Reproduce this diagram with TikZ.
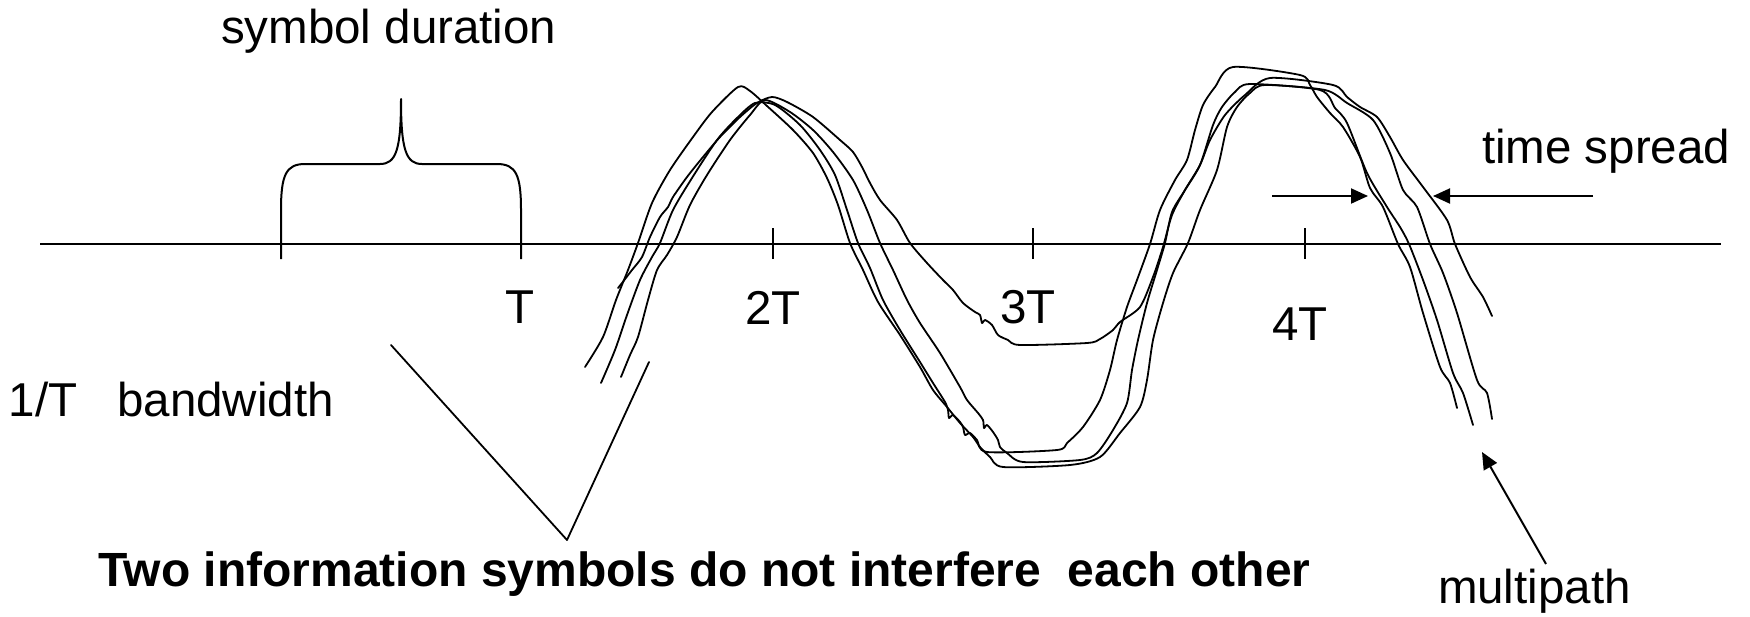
\documentclass[tikz,border=0pt]{standalone}
\usepackage{fontspec}
\setmainfont{Liberation Sans}
\usetikzlibrary{arrows.meta}
\begin{document}
\begin{tikzpicture}[x=1pt,y=-1pt,
  axisline/.style={line width=2pt},
  wave/.style={line width=1.8pt, line join=round, line cap=round},
  lbl/.style={inner sep=0pt, outer sep=0pt, font=\fontsize{47.5}{57}\selectfont},
  boldlbl/.style={inner sep=0pt, outer sep=0pt, font=\fontsize{48}{58}\selectfont\bfseries},
  arr/.style={line width=2pt, -{Triangle[length=17pt,width=15pt]}},
  ticklen/.style={line width=2pt},
]
\useasboundingbox (0,0) rectangle (1750,616);

% axis
\coordinate (axL) at (40,244);
\coordinate (axR) at (1721,244);
\draw[axisline] (axL) -- (axR);

% ticks
\foreach \n/\x in {t2/773, t3/1033, t4/1305}{
  \coordinate (\n top) at (\x,228);
  \coordinate (\n bot) at (\x,259);
  \draw[ticklen] (\n top) -- (\n bot);
}

% brace (symbol duration)
\coordinate (brL) at (281,259);
\coordinate (brR) at (521,259);
\coordinate (brP) at (401,99);
\draw[axisline, line join=round] (brL) -- (281,210) .. controls (281,175) and (286,164) .. (305,164)
   -- (380,164) .. controls (396,164) and (401,150) .. (brP)
   .. controls (401,150) and (406,164) .. (422,164) -- (497,164)
   .. controls (516,164) and (521,175) .. (521,210) -- (brR);

% labels
\node[lbl, anchor=base west] (symdur) at (221,43) {symbol duration};
\node[lbl, anchor=base] (lT) at (520,323) {T};
\node[lbl, anchor=base] (l2T) at (773,324) {2T};
\node[lbl, anchor=base] (l3T) at (1028,323) {3T};
\node[lbl, anchor=base] (l4T) at (1300,340) {4T};
\node[lbl, anchor=base west] (bw) at (9,416) {1/T\ \ \ bandwidth};
\node[lbl, anchor=base west] (ts) at (1482,163) {time spread};
\node[lbl, anchor=base west] (mp) at (1438,603) {multipath};
\node[boldlbl, anchor=base west] (two) at (98,586) {Two information symbols do not interfere\ \ each other};

% V lines
\coordinate (vL) at (391,345);
\coordinate (vB) at (567,540);
\coordinate (vR) at (649,362);
\draw[wave] (vL) -- (vB) -- (vR);

% waves
\draw[wave] plot[smooth, tension=0.45] coordinates {
(585,367) (603,337) (616,300) (628,270) (638,243) (652,203) (670,170) (693,137) (712,112) (738,87) (750,91) (767,106) (793,130) (813,153) (827,178) (838,205) (850,243) (863,270) (878,302) (900,335) (920,367) (933,390) (947,407) (960,423) (973,437) (980,447) (990,457) (1003,467) (1070,465) (1100,457) (1120,433) (1140,407) (1147,380) (1153,340) (1163,303) (1173,273) (1188,243) (1200,210) (1217,170) (1227,127) (1237,107) (1250,93) (1265,85) (1325,90) (1347,103) (1373,120) (1390,153) (1403,190) (1417,207) (1430,244) (1443,273) (1457,313) (1477,380) (1487,393) (1492,419)};

\draw[wave] plot[smooth, tension=0.45] coordinates {
(601,383) (615,350) (627,315) (640,280) (652,257) (660,243) (673,210) (692,178) (717,140) (737,118) (755,103) (775,105) (800,125) (820,150) (835,175) (847,210) (858,243) (870,268) (883,300) (900,330) (920,362) (933,383) (945,402) (948,410) (949,418) (953,415) (960,422) (963,427) (965,435) (970,433) (977,440) (987,452) (1057,450) (1067,443) (1083,427) (1100,400) (1110,370) (1117,340) (1127,307) (1137,280) (1150,244) (1160,210) (1175,180) (1187,160) (1195,130) (1203,105) (1215,87) (1233,67) (1300,75) (1310,85) (1317,97) (1330,113) (1343,127) (1360,157) (1370,188) (1383,207) (1398,244) (1410,267) (1423,313) (1440,367) (1450,383) (1457,408)};

\draw[wave] plot[smooth, tension=0.45] coordinates {
(621,377) (630,355) (638,337) (648,300) (657,270) (667,255) (677,237) (690,205) (707,175) (730,140) (750,115) (765,100) (790,112) (813,130) (833,152) (853,180) (867,210) (880,243) (893,270) (907,300) (920,323) (940,353) (960,387) (967,400) (978,413) (983,420) (984,428) (987,425) (993,432) (998,440) (1000,447) (1007,453) (1023,462) (1080,460) (1097,453) (1113,430) (1127,403) (1132,370) (1138,340) (1147,303) (1157,270) (1165,243) (1172,212) (1185,190) (1200,165) (1213,125) (1222,107) (1235,92) (1250,84) (1320,90) (1335,108) (1347,123) (1367,173) (1387,207) (1400,227) (1409,244) (1423,280) (1437,320) (1453,373) (1463,393) (1473,425)};

\draw[wave] plot[smooth, tension=0.45] coordinates {
(618,288) (622,283) (632,270) (642,257) (650,237) (660,217) (668,207) (673,197) (687,177) (703,157) (720,137) (740,117) (757,103) (772,97) (787,102) (813,117) (840,140) (853,152) (862,167) (870,183) (880,200) (897,220) (910,243) (927,263) (943,280) (953,290) (963,303) (975,312) (980,315) (982,323) (985,320) (992,325) (998,335) (1008,340) (1020,345) (1087,343) (1100,339) (1113,330) (1120,322) (1140,307) (1153,277) (1163,247) (1172,215) (1185,190) (1200,165) (1210,140) (1225,115) (1245,95) (1270,78) (1333,85) (1347,97) (1360,107) (1377,117) (1390,137) (1403,160) (1423,187) (1447,220) (1455,244) (1470,277) (1483,297) (1492,316)};

% time spread arrows
\coordinate (tsLa) at (1272,196);
\coordinate (tsLb) at (1368,196);
\coordinate (tsRa) at (1593,196);
\coordinate (tsRb) at (1433,196);
\draw[arr] (tsLa) -- (tsLb);
\draw[arr] (tsRa) -- (tsRb);

% multipath arrow
\coordinate (mpA) at (1546,564);
\coordinate (mpB) at (1482,452);
\draw[arr] (mpA) -- (mpB);
\end{tikzpicture}
\end{document}
